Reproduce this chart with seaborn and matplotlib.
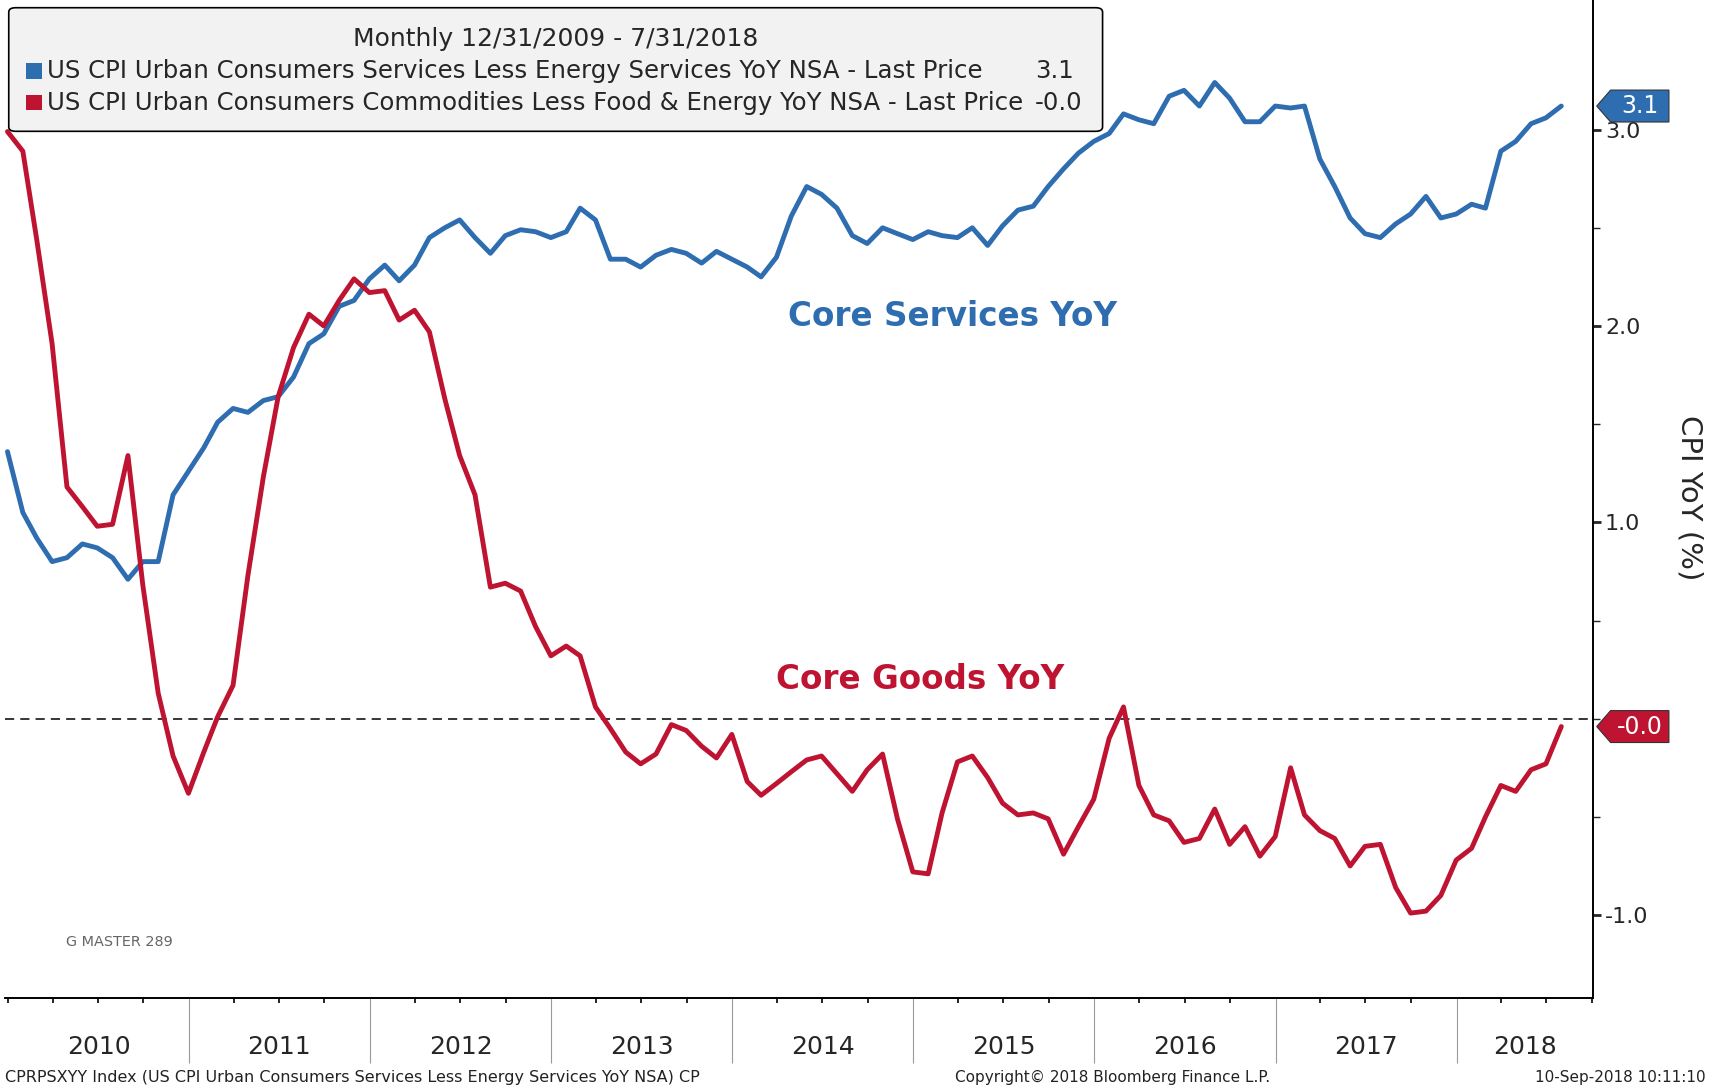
import numpy as np
import pandas as pd
import seaborn as sns
import matplotlib
matplotlib.use("Agg")
import matplotlib.pyplot as plt
import matplotlib.transforms as mtransforms
from matplotlib.patches import Polygon, FancyBboxPatch, Rectangle

# monthly month-end points, 12/31/2009 - 7/31/2018
dates = pd.date_range("2010-01-01", periods=104, freq="MS") - pd.Timedelta(days=1)

services = [1.36, 1.05, 0.92, 0.80, 0.82, 0.89, 0.87, 0.82, 0.71, 0.80,
            0.80, 1.14, 1.26, 1.38, 1.51, 1.58, 1.56, 1.62, 1.64, 1.74,
            1.91, 1.96, 2.10, 2.13, 2.24, 2.31, 2.23, 2.31, 2.45, 2.50,
            2.54, 2.45, 2.37, 2.46, 2.49, 2.48, 2.45, 2.48, 2.60, 2.54,
            2.34, 2.34, 2.30, 2.36, 2.39, 2.37, 2.32, 2.38, 2.34, 2.30,
            2.25, 2.35, 2.56, 2.71, 2.67, 2.60, 2.46, 2.42, 2.50, 2.47,
            2.44, 2.48, 2.46, 2.45, 2.50, 2.41, 2.51, 2.59, 2.61, 2.71,
            2.80, 2.88, 2.94, 2.98, 3.08, 3.05, 3.03, 3.17, 3.20, 3.12,
            3.24, 3.16, 3.04, 3.04, 3.12, 3.11, 3.12, 2.85, 2.71, 2.55,
            2.47, 2.45, 2.52, 2.57, 2.66, 2.55, 2.57, 2.62, 2.60, 2.89,
            2.94, 3.03, 3.06, 3.12]

goods = [2.99, 2.89, 2.44, 1.91, 1.18, 1.08, 0.98, 0.99, 1.34, 0.68,
         0.13, -0.19, -0.38, -0.17, 0.01, 0.17, 0.73, 1.23, 1.64, 1.89,
         2.06, 2.00, 2.13, 2.24, 2.17, 2.18, 2.03, 2.08, 1.97, 1.63,
         1.34, 1.14, 0.67, 0.69, 0.65, 0.47, 0.32, 0.37, 0.32, 0.06,
         -0.05, -0.17, -0.23, -0.18, -0.03, -0.06, -0.14, -0.20, -0.08, -0.32,
         -0.39, -0.33, -0.27, -0.21, -0.19, -0.28, -0.37, -0.26, -0.18, -0.51,
         -0.78, -0.79, -0.48, -0.22, -0.19, -0.30, -0.43, -0.49, -0.48, -0.51,
         -0.69, -0.55, -0.41, -0.10, 0.06, -0.34, -0.49, -0.52, -0.63, -0.61,
         -0.46, -0.64, -0.55, -0.70, -0.60, -0.25, -0.49, -0.57, -0.61, -0.75,
         -0.65, -0.64, -0.86, -0.99, -0.98, -0.90, -0.72, -0.66, -0.50, -0.34,
         -0.37, -0.26, -0.23, -0.04]

legend_names = ["US CPI Urban Consumers Services Less Energy Services YoY NSA - Last Price",
                "US CPI Urban Consumers Commodities Less Food & Energy YoY NSA - Last Price"]
years = list(range(2010, 2019))

BLUE = "#2E6DB0"
RED = "#BE1432"

sns.set_style("white")
plt.rcParams["font.family"] = ["DejaVu Sans"]
plt.rcParams["axes.unicode_minus"] = False

df = pd.DataFrame({"date": dates, "Core Services": services, "Core Goods": goods})
df = df.melt("date", var_name="series", value_name="yoy")

fig = plt.figure(figsize=(17.15, 10.87), dpi=100)
ax = fig.add_axes([0.0032, 0.0823, 0.9254, 0.9177])

sns.lineplot(data=df, x="date", y="yoy", hue="series",
             palette={"Core Services": BLUE, "Core Goods": RED},
             linewidth=3.5, legend=False, ax=ax)
ax.axhline(0, color="black", lw=1.1, ls=(0, (6, 4)), zorder=1)

x0, x1 = pd.Timestamp("2009-12-27"), pd.Timestamp("2018-10-02")
ax.set_xlim(x0, x1)
ax.set_ylim(-1.42, 3.66)
ax.set_xlabel("")
ax.set_ylabel("")

for s in ["top", "left"]:
    ax.spines[s].set_visible(False)
for s in ["right", "bottom"]:
    ax.spines[s].set_linewidth(1.4)
    ax.spines[s].set_color("black")

# right y axis
ax.yaxis.tick_right()
ax.set_yticks([-1, 1, 2, 3])
ax.set_yticks([-0.5, 0, 0.5, 1.5, 2.5], minor=True)
ax.set_yticklabels([f"{v:.1f}" for v in [-1, 1, 2, 3]])
ax.tick_params(axis="y", which="major", direction="out", length=6, width=2,
               pad=3, labelsize=16, right=True, left=False)
ax.tick_params(axis="y", which="minor", direction="out", length=5, width=1,
               right=True, left=False)

# x axis: year separators and quarterly ticks
ax.set_xticks([pd.Timestamp(f"{y}-01-01") for y in years[1:]])
ax.set_xticklabels([])
ax.set_xticks(pd.date_range("2010-01-01", "2018-10-01", freq="QS"), minor=True)
ax.tick_params(axis="x", which="major", direction="out", length=47, width=0.8,
               color="#9a9a9a", bottom=True)
ax.tick_params(axis="x", which="minor", direction="out", length=3.5, width=1.2,
               color="black", bottom=True)
for y in years:
    left = max(pd.Timestamp(f"{y}-01-01"), x0)
    right = min(pd.Timestamp(f"{y + 1}-01-01"), x1)
    mid = left + (right - left) / 2
    ax.text(mid, -0.05, str(y), transform=ax.get_xaxis_transform(),
            ha="center", va="center", fontsize=18)

# last-price tags on the right axis
for vals, col in [(services, BLUE), (goods, RED)]:
    last = vals[-1]
    trans = (mtransforms.Affine2D().scale(fig.dpi / 72.0)
             + mtransforms.ScaledTranslation(1.0, last, ax.get_yaxis_transform()))
    tag = Polygon([(3, 0), (13, 11.5), (55, 11.5), (55, -11.5), (13, -11.5)],
                  closed=True, fc=col, ec="#333333", lw=0.8, transform=trans,
                  clip_on=False, zorder=5)
    ax.add_patch(tag)
    ax.annotate(f"{last:.1f}", xy=(1.0, last), xycoords=("axes fraction", "data"),
                xytext=(34, 0), textcoords="offset points", ha="center",
                va="center", color="white", fontsize=17, zorder=6,
                annotation_clip=False)

# series labels
ax.text(0.5964, 0.6832, "Core Services YoY", transform=ax.transAxes, ha="center",
        va="center", fontsize=23.5, fontweight="bold", color=BLUE)
ax.text(0.5762, 0.3193, "Core Goods YoY", transform=ax.transAxes, ha="center",
        va="center", fontsize=23.5, fontweight="bold", color=RED)

fig.text(0.9854, 0.542, "CPI YoY (%)", rotation=270, ha="center", va="center",
         fontsize=21)

# legend box
fig.patches.append(FancyBboxPatch((0.0051, 0.8792), 0.6378, 0.1137,
                                  boxstyle="round,pad=0,rounding_size=0.004",
                                  transform=fig.transFigure, fc="#f2f2f2",
                                  ec="black", lw=1.2, zorder=4))
fig.text(0.324, 0.9638, "Monthly 12/31/2009 - 7/31/2018", ha="center",
         va="center", fontsize=18, zorder=5)
for row_y, name, vals, col in [(0.9346, legend_names[0], services, BLUE),
                               (0.9054, legend_names[1], goods, RED)]:
    fig.patches.append(Rectangle((0.0153, row_y - 0.007), 0.0089, 0.0141,
                                 transform=fig.transFigure, fc=col, ec="none",
                                 zorder=5))
    fig.text(0.0274, row_y, name, va="center", fontsize=17.6, zorder=5)
    fig.text(0.6035, row_y, f"{vals[-1]:.1f}", va="center", fontsize=17.6, zorder=5)

fig.text(0.0383, 0.1337, "G MASTER 289", va="center", fontsize=10.4, color="#666666")

# footer
fig.text(0.003, 0.0088, "CPRPSXYY Index (US CPI Urban Consumers Services Less Energy Services YoY NSA) CP",
         va="center", ha="left", fontsize=11.5, color="#222222")
fig.text(0.649, 0.0088, "Copyright\u00a9 2018 Bloomberg Finance L.P.", va="center",
         ha="center", fontsize=11, color="#222222")
fig.text(0.9948, 0.0088, "10-Sep-2018 10:11:10", va="center", ha="right",
         fontsize=11, color="#222222")

fig.savefig("out.png", dpi=100)
